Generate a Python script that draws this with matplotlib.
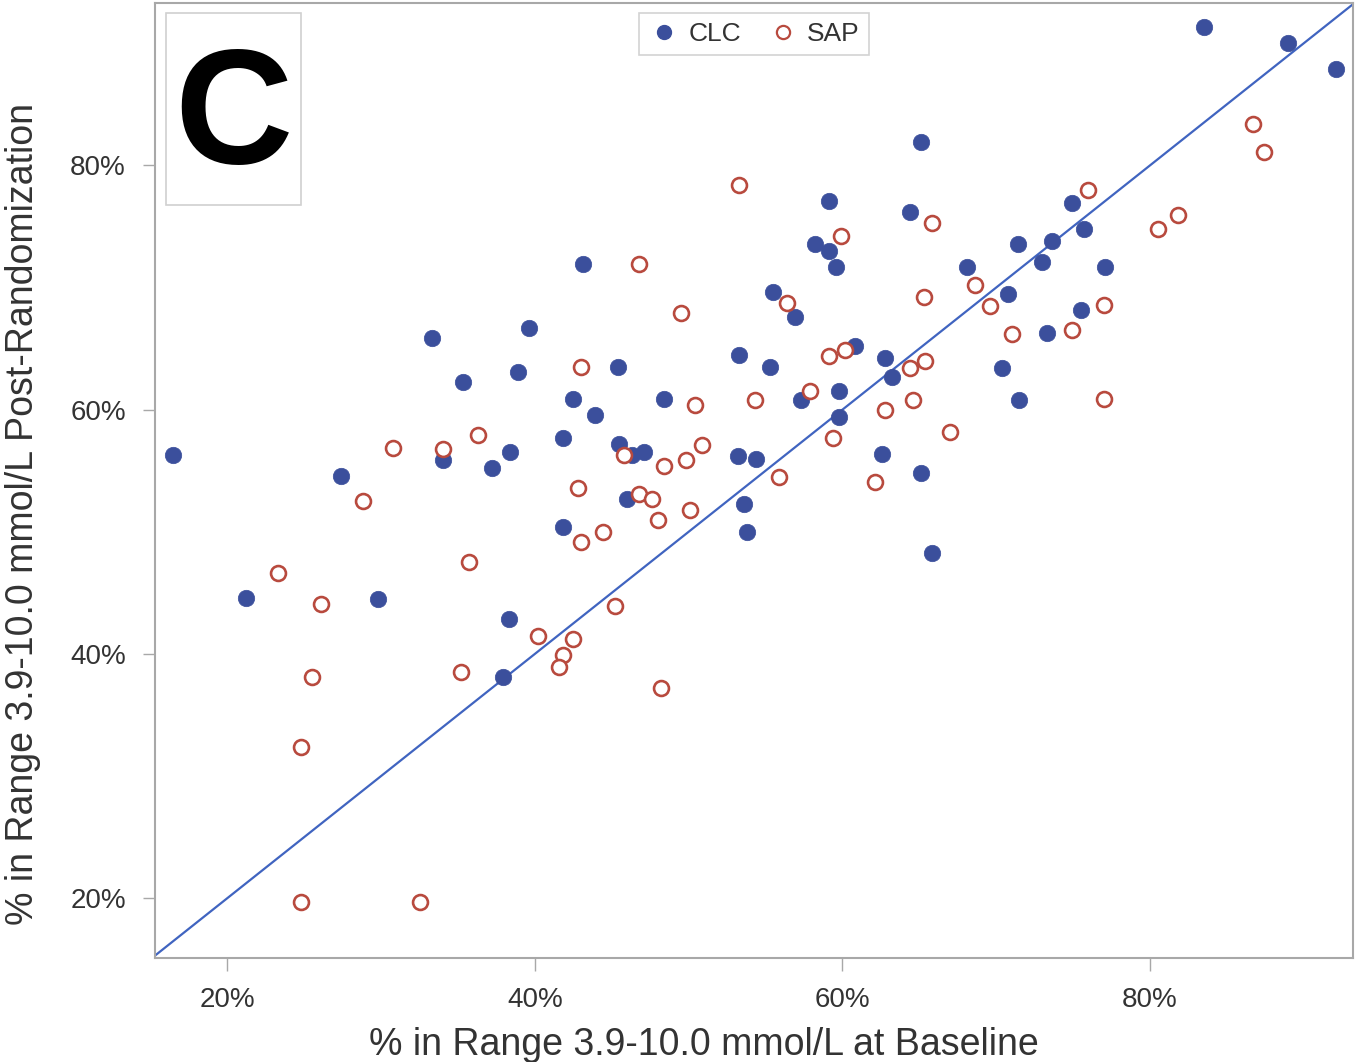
import matplotlib
matplotlib.use('Agg')
import matplotlib.pyplot as plt
from matplotlib.patches import Rectangle
from matplotlib.ticker import FuncFormatter
from matplotlib.lines import Line2D

plt.rcParams['font.family'] = ['Liberation Sans', 'DejaVu Sans']

# % in range at baseline (x) and post-randomization (y)
clc_base = [16.5, 21.2, 27.4, 29.8, 33.3, 34.0, 35.3, 37.2, 37.9, 38.3,
            38.4, 38.9, 39.6, 41.8, 41.8, 42.5, 43.1, 43.9, 45.4, 45.5,
            46.0, 46.3, 47.1, 48.4, 53.2, 53.3, 53.6, 53.8, 54.4, 55.5,
            55.3, 56.9, 57.3, 58.2, 59.1, 59.1, 59.6, 59.8, 59.8, 60.8,
            62.6, 62.8, 63.2, 64.4, 65.1, 65.1, 65.8, 68.1, 70.4, 70.8,
            71.4, 71.5, 73.0, 73.3, 73.6, 74.9, 75.5, 75.7, 77.1, 83.5,
            89.0, 92.1]
clc_post = [56.3, 44.6, 54.6, 44.5, 65.9, 55.9, 62.3, 55.2, 38.1, 42.9,
            56.5, 63.1, 66.7, 57.7, 50.4, 60.9, 71.9, 59.6, 63.5, 57.2,
            52.7, 56.3, 56.5, 60.9, 56.2, 64.5, 52.3, 50.0, 56.0, 69.6,
            63.5, 67.6, 60.8, 73.6, 77.1, 73.0, 71.7, 61.5, 59.4, 65.2,
            56.4, 64.2, 62.7, 76.2, 81.9, 54.8, 48.3, 71.7, 63.4, 69.5,
            73.6, 60.8, 72.1, 66.3, 73.8, 76.9, 68.2, 74.8, 71.7, 91.3,
            90.0, 87.9]

sap_base = [23.3, 24.8, 24.8, 25.5, 26.1, 28.8, 30.8, 32.5, 34.0, 35.2,
            35.7, 36.3, 40.2, 41.8, 41.6, 42.5, 42.8, 43.0, 43.0, 44.4,
            45.2, 45.8, 46.8, 46.8, 47.6, 48.0, 48.2, 48.4, 49.5, 49.8,
            50.1, 50.4, 50.9, 53.3, 54.3, 55.9, 56.4, 57.9, 59.1, 59.4,
            59.9, 60.2, 62.1, 62.8, 64.4, 64.6, 65.3, 65.4, 65.8, 67.0,
            68.6, 69.6, 71.0, 74.9, 76.0, 77.0, 77.0, 80.5, 81.8, 86.7,
            87.4]
sap_post = [46.6, 32.4, 19.7, 38.1, 44.1, 52.5, 56.9, 19.7, 56.8, 38.5,
            47.5, 57.9, 41.5, 39.9, 38.9, 41.2, 53.6, 49.2, 63.5, 50.0,
            43.9, 56.3, 71.9, 53.1, 52.7, 51.0, 37.2, 55.4, 67.9, 55.9,
            51.8, 60.4, 57.1, 78.4, 60.8, 54.5, 68.7, 61.5, 64.4, 57.7,
            74.2, 64.9, 54.1, 60.0, 63.4, 60.8, 69.2, 64.0, 75.3, 58.2,
            70.2, 68.5, 66.2, 66.5, 78.0, 68.6, 60.9, 74.8, 75.9, 83.4,
            81.1]

ticks = [20, 40, 60, 80]
xlim = (15.3, 93.2)
ylim = (15.1, 93.3)

blue = '#3b4f9c'
red = '#b84a3e'
line_blue = '#4064c0'
frame = '#a8a8a8'
text_col = '#333333'

fig = plt.figure(figsize=(13.55, 10.62), dpi=100)
ax = fig.add_axes([0.1144, 0.0979, 0.8841, 0.8993])

lo = max(xlim[0], ylim[0])
hi = min(xlim[1], ylim[1])
ax.plot([lo, hi], [lo, hi], color=line_blue, lw=1.6, zorder=1)

ax.scatter(clc_base, clc_post, s=140, color=blue, edgecolors=blue, lw=0.5, zorder=3)
ax.scatter(sap_base, sap_post, s=115, facecolors='white', edgecolors=red, lw=1.9, zorder=3)

ax.set_xlim(*xlim)
ax.set_ylim(*ylim)
ax.set_xticks(ticks)
ax.set_yticks(ticks)
pct = FuncFormatter(lambda v, p: f'{v:.0f}%')
ax.xaxis.set_major_formatter(pct)
ax.yaxis.set_major_formatter(pct)
ax.tick_params(direction='out', length=9, width=1, color=frame,
               labelsize=20, labelcolor=text_col, pad=12)

for s in ax.spines.values():
    s.set_color(frame)
    s.set_linewidth(1.5)

ax.set_xlabel('% in Range 3.9-10.0 mmol/L at Baseline', fontsize=27, color=text_col)
ax.set_ylabel('% in Range 3.9-10.0 mmol/L Post-Randomization', fontsize=27, color=text_col)
ax.xaxis.set_label_coords(0.458, -0.072)
ax.yaxis.set_label_coords(-0.095, 0.465)

# panel letter
ax.add_patch(Rectangle((0.0092, 0.7885), 0.1127, 0.201, transform=ax.transAxes,
                       fill=False, edgecolor='#d0d0d0', lw=1.2, zorder=4))
ax.text(0.0655, 0.877, 'C', transform=ax.transAxes, ha='center', va='center',
        fontsize=118, fontweight='bold', color='black', zorder=5)

handles = [Line2D([], [], ls='none', marker='o', ms=10, color=blue, mec=blue),
           Line2D([], [], ls='none', marker='o', ms=9.5, mfc='white', mec=red, mew=1.6)]
leg = ax.legend(handles, ['CLC', 'SAP'], loc='upper center', bbox_to_anchor=(0.5, 0.99),
                ncol=2, fontsize=19, frameon=True, fancybox=False, borderaxespad=0,
                handletextpad=0.3, columnspacing=1.0, handlelength=1.2, borderpad=0.35)
leg.get_frame().set_edgecolor('#c8c8c8')
leg.get_frame().set_linewidth(1.2)
for t in leg.get_texts():
    t.set_color(text_col)

fig.savefig('out.png', dpi=100)
